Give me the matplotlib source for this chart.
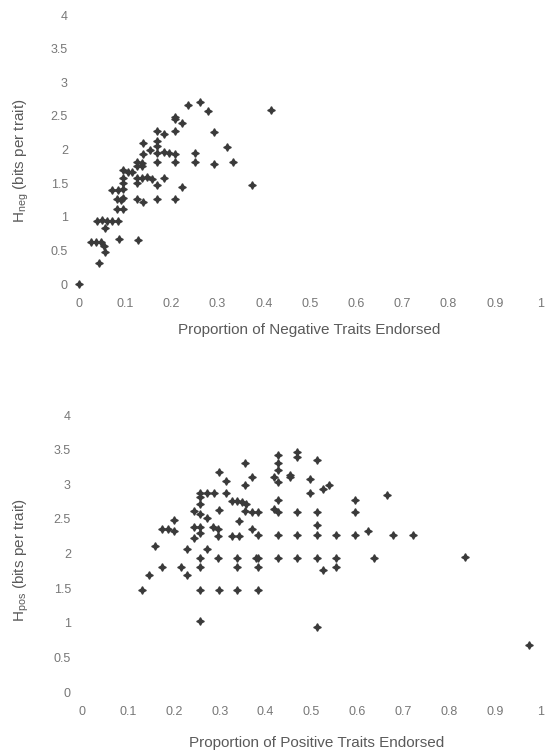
import matplotlib
matplotlib.use("Agg")
import matplotlib.pyplot as plt

plt.rcParams['font.family'] = ['Liberation Sans', 'DejaVu Sans']
plt.rcParams['mathtext.default'] = 'regular'

# Painel superior: traços negativos
neg_x = [0.000, 0.043, 0.025, 0.036, 0.047, 0.054, 0.056, 0.087, 0.127,
         0.038, 0.049, 0.060, 0.071, 0.085, 0.056, 0.082, 0.096,
         0.082, 0.092, 0.096, 0.125, 0.139, 0.168, 0.208,
         0.071, 0.085, 0.096, 0.096, 0.096, 0.125,
         0.125, 0.136, 0.147, 0.157, 0.168, 0.183, 0.222,
         0.096, 0.107, 0.114, 0.125, 0.136, 0.125, 0.136,
         0.168, 0.208, 0.251, 0.292, 0.334,
         0.139, 0.154, 0.168, 0.183, 0.195, 0.208, 0.251,
         0.139, 0.168, 0.168, 0.168, 0.183, 0.208, 0.292, 0.320,
         0.208, 0.208, 0.222, 0.235, 0.263, 0.279, 0.415, 0.374]
neg_y = [0.00, 0.32, 0.62, 0.63, 0.63, 0.57, 0.48, 0.67, 0.66,
         0.93, 0.95, 0.94, 0.94, 0.94, 0.83, 1.11, 1.11,
         1.26, 1.25, 1.28, 1.26, 1.22, 1.26, 1.26,
         1.40, 1.40, 1.42, 1.50, 1.57, 1.50,
         1.57, 1.57, 1.59, 1.56, 1.47, 1.57, 1.45,
         1.70, 1.67, 1.67, 1.81, 1.80, 1.75, 1.75,
         1.81, 1.81, 1.81, 1.79, 1.82,
         1.94, 2.00, 1.95, 1.97, 1.95, 1.94, 1.95,
         2.10, 2.12, 2.05, 2.27, 2.23, 2.27, 2.26, 2.04,
         2.49, 2.45, 2.40, 2.66, 2.71, 2.58, 2.59, 1.47]

# Painel inferior: traços positivos
pos_x = [0.130, 0.147, 0.159, 0.174, 0.188, 0.201, 0.174, 0.201, 0.216,
         0.229, 0.229, 0.244, 0.244, 0.244,
         0.257, 0.257, 0.257, 0.257, 0.257, 0.257, 0.257, 0.257, 0.257, 0.257,
         0.272, 0.272, 0.272, 0.285, 0.288, 0.297, 0.297, 0.297,
         0.299, 0.299, 0.299, 0.314, 0.314, 0.326, 0.326,
         0.337, 0.337, 0.337, 0.337, 0.341, 0.341, 0.348, 0.357,
         0.355, 0.355, 0.355, 0.370, 0.370, 0.370,
         0.384, 0.384, 0.384, 0.380, 0.384, 0.384, 0.418, 0.418,
         0.426, 0.426, 0.426, 0.426, 0.426, 0.426, 0.426, 0.426,
         0.453, 0.453, 0.468, 0.468, 0.469, 0.469, 0.469, 0.497, 0.497,
         0.511, 0.511, 0.511, 0.511, 0.511, 0.511, 0.524, 0.524, 0.539,
         0.553, 0.553, 0.553, 0.595, 0.595, 0.595, 0.624, 0.636, 0.664,
         0.678, 0.722, 0.834, 0.974]
pos_y = [1.47, 1.69, 2.11, 2.36, 2.36, 2.33, 1.81, 2.48, 1.81,
         2.07, 1.69, 2.62, 2.39, 2.22,
         2.87, 2.81, 2.72, 2.57, 2.39, 2.29, 1.94, 1.81, 1.47, 1.02,
         2.87, 2.51, 2.07, 2.38, 2.87, 2.36, 2.26, 1.94,
         3.18, 2.63, 1.47, 3.05, 2.88, 2.76, 2.26,
         2.76, 1.94, 1.81, 1.47, 2.47, 2.26, 2.74, 2.72,
         3.31, 2.99, 2.62, 3.10, 2.60, 2.36,
         2.60, 2.27, 1.94, 1.94, 1.81, 1.48, 3.10, 2.64,
         3.42, 3.31, 3.20, 3.03, 2.77, 2.60, 2.27, 1.94,
         3.13, 3.10, 3.47, 3.39, 2.60, 2.27, 1.94, 3.07, 2.88,
         3.35, 2.60, 2.41, 2.27, 1.94, 0.94, 2.93, 1.76, 2.99,
         2.27, 1.94, 1.81, 2.77, 2.60, 2.27, 2.32, 1.93, 2.84,
         2.27, 2.27, 1.95, 0.68]

x_ticks = [0, 0.1, 0.2, 0.3, 0.4, 0.5, 0.6, 0.7, 0.8, 0.9, 1]
x_labels = ["0", "0.1", "0.2", "0.3", "0.4", "0.5", "0.6", "0.7", "0.8", "0.9", "1"]
y_ticks = [0, 0.5, 1, 1.5, 2, 2.5, 3, 3.5, 4]
y_labels = ["0", "0.5", "1", "1.5", "2", "2.5", "3", "3.5", "4"]

fig = plt.figure(figsize=(5.47, 7.56), dpi=100)
ax1 = fig.add_axes([0.1444, 0.6243, 0.8446, 0.3558])
ax2 = fig.add_axes([0.1499, 0.0846, 0.8391, 0.3664])

for ax, xs, ys in [(ax1, neg_x, neg_y), (ax2, pos_x, pos_y)]:
    ax.plot(xs, ys, linestyle="none", marker=(4, 1, 0), markersize=5.5,
            color="#3a3a3a", markeredgewidth=0.9, clip_on=False)
    ax.set_xlim(0, 1)
    ax.set_ylim(0, 4)
    ax.set_xticks(x_ticks)
    ax.set_xticklabels(x_labels)
    ax.set_yticks(y_ticks)
    ax.set_yticklabels(y_labels)
    ax.tick_params(axis="x", length=0, pad=10, labelsize=9, labelcolor="#777777")
    ax.tick_params(axis="y", length=0, pad=8, labelsize=9, labelcolor="#777777")
    for s in ax.spines.values():
        s.set_visible(False)
    ax.patch.set_alpha(0)

fig.text(309 / 547, 1 - 330 / 756, "Proportion of Negative Traits Endorsed",
         ha="center", va="center", fontsize=11, color="#5a5a5a")
fig.text(317 / 547, 1 - 743 / 756, "Proportion of Positive Traits Endorsed",
         ha="center", va="center", fontsize=11, color="#5a5a5a")
fig.text(21 / 547, 1 - 161 / 756, r"H$_{neg}$ (bits per trait)", rotation=90,
         ha="center", va="center", fontsize=11, color="#5a5a5a")
fig.text(21 / 547, 1 - 560 / 756, r"H$_{pos}$ (bits per trait)", rotation=90,
         ha="center", va="center", fontsize=11, color="#5a5a5a")

fig.savefig("out.png", dpi=100, facecolor="white")
